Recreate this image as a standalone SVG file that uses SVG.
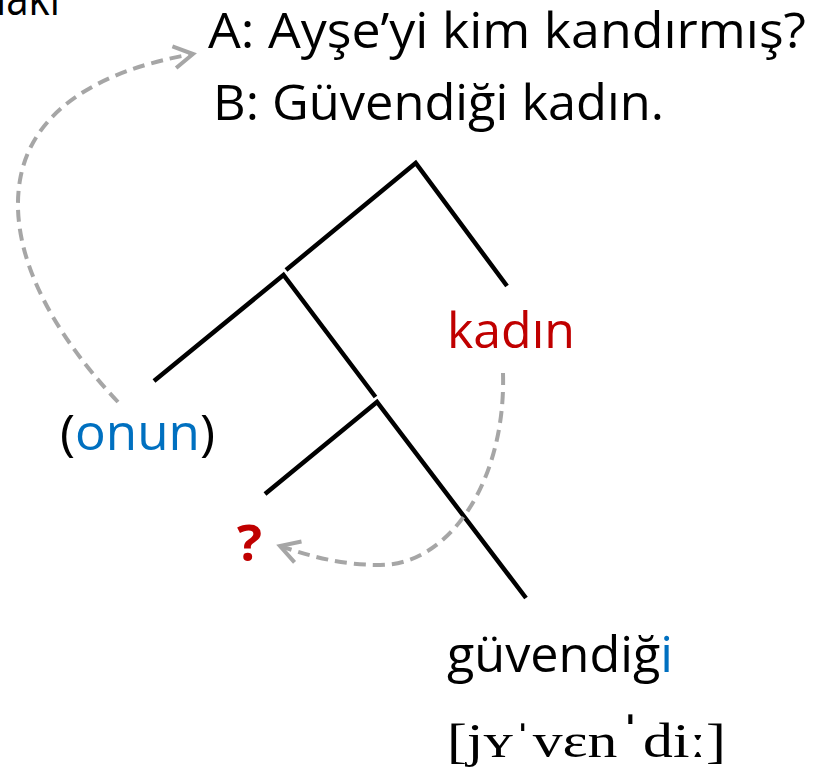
<svg xmlns="http://www.w3.org/2000/svg" width="813" height="776" viewBox="0 0 813 776">
<style>
.t{font-family:"Open Sans","Noto Sans","Liberation Sans",sans-serif;font-size:50px;fill:#000}
.red{fill:#C00000}
.blue{fill:#0070C0}
.ipa{font-family:"Liberation Serif","DejaVu Serif",serif;font-size:48px;fill:#000}
.edge{stroke:#000;stroke-width:4.5;fill:none;stroke-linecap:butt}
.mv{stroke:#A6A6A6;stroke-width:4;fill:none;stroke-dasharray:12 7}
</style>
<defs>
<marker id="chev" markerUnits="userSpaceOnUse" markerWidth="40" markerHeight="40" viewBox="-25 -20 30 40" refX="0" refY="0" orient="auto">
<path d="M-19,-11 L0,0 L-19,11" fill="none" stroke="#A6A6A6" stroke-width="4"/>
</marker>
</defs>
<rect width="813" height="776" fill="#fff"/>
<g id="corner-text"><text class="t" x="-4" y="15" textLength="64" lengthAdjust="spacingAndGlyphs">laki</text></g>
<g id="dialogue">
<text class="t" x="208" y="48" textLength="598" lengthAdjust="spacingAndGlyphs">A: Ayşe’yi kim kandırmış?</text>
<text class="t" x="213" y="120" textLength="451" lengthAdjust="spacingAndGlyphs">B: Güvendiği kadın.</text>
</g>
<g id="connectors">
<polyline class="edge" points="286,270 415.7,163 507,286"/>
<polyline class="edge" points="154,381 283.5,275 375.5,397"/>
<polyline class="edge" points="265,494 377,402 526,598"/>
<path class="mv" d="M118,402 C50,330 8,250 20,180 C32,110 100,70 193,54" marker-end="url(#chev)"/>
<path class="mv" d="M503,373 C506,480 450,565 380,565 C340,565 310,556 280,546" marker-end="url(#chev)"/>
</g>
<g id="node-kadin"><text class="t red" x="447" y="348" textLength="128" lengthAdjust="spacingAndGlyphs">kadın</text></g>
<g id="node-onun"><text class="t" x="60" y="450" textLength="155" lengthAdjust="spacingAndGlyphs">(<tspan class="blue">onun</tspan>)</text></g>
<g id="node-q"><text class="t red" x="237" y="561" font-weight="bold" textLength="25" lengthAdjust="spacingAndGlyphs">?</text></g>
<g id="node-guvendigi">
<text class="t" x="447" y="672" textLength="226" lengthAdjust="spacingAndGlyphs">güvendiğ<tspan class="blue">i</tspan></text>
<text class="ipa" x="447" y="757" textLength="279" lengthAdjust="spacingAndGlyphs">[jʏˈvɛn<tspan font-size="62">ˈ</tspan>diː]</text>
</g>
</svg>
